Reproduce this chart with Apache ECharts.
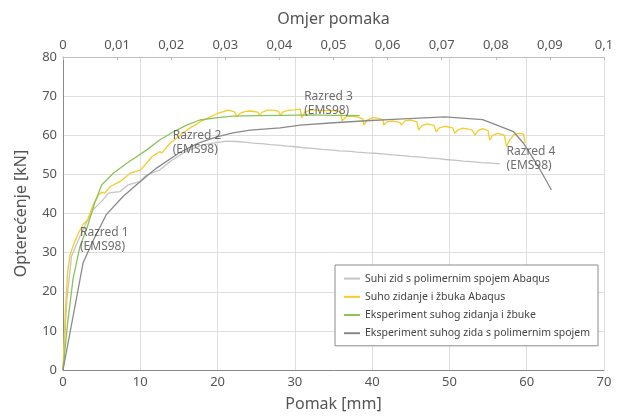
<!DOCTYPE html>
<html>
<head>
<meta charset="utf-8">
<script src="https://cdn.jsdelivr.net/npm/echarts@6/dist/echarts.min.js"></script>
<style>
  html, body { margin: 0; padding: 0; background: #fff; }
  #chart { width: 630px; height: 417px; }
</style>
</head>
<body>
<div id="chart"></div>
<script>
/* ===== podaci: pomak [mm] / opterecenje [kN] ===== */
const names = [
  "Suhi zid s polimernim spojem Abaqus",
  "Suho zidanje i žbuka Abaqus",
  "Eksperiment suhog zidanja i žbuke",
  "Eksperiment suhog zida s polimernim spojem",
];

// Suhi zid s polimernim spojem Abaqus
const abaqusPolX = [0, 0.5, 1.1, 2.2, 3.0, 3.9, 5.0, 5.9, 6.5, 7.4, 8.4, 10, 10.8, 12.5, 14, 16, 18, 20,
  21.2, 22.4, 22.5, 23.8, 24.6, 24.7, 26.0, 26.8, 26.9, 28.2, 29.0, 29.1, 30.4, 31.2, 31.3, 32.6, 33.5, 33.6,
  34.9, 35.8, 35.9, 37.2, 38.0, 38.1, 39.4, 40.3, 40.4, 41.7, 42.6, 42.7, 44.0, 44.9, 45.0, 46.3, 47.2, 47.3,
  48.6, 49.5, 49.6, 50.9, 51.8, 51.9, 53.2, 54.1, 54.2, 55.4, 56.5];
const abaqusPolY = [0, 18, 29.1, 34.2, 37.5, 41.0, 43.1, 45.2, 45.4, 45.6, 47.3, 48.2, 49.9, 51.1, 53.5, 56.0, 57.5, 58.2,
  58.5, 58.4, 57.9, 58.2, 58.0, 57.5, 57.8, 57.6, 57.1, 57.4, 57.2, 56.7, 57.0, 56.8, 56.3, 56.6, 56.4, 55.9,
  56.2, 56.0, 55.5, 55.9, 55.7, 55.2, 55.5, 55.4, 54.9, 55.2, 55.0, 54.5, 54.8, 54.6, 54.1, 54.4, 54.2, 53.7,
  54.0, 53.8, 53.3, 53.6, 53.4, 52.9, 53.2, 53.0, 52.6, 52.9, 52.7];

// Suho zidanje i zbuka Abaqus
const abaqusZbX = [0, 0.3, 0.6, 0.9, 1.3, 2.0, 2.6, 3.2, 3.9, 4.6, 5.0, 5.4, 6.1, 7.4, 7.6, 8.7, 10, 10.6, 11.5, 12.5, 12.8,
  13.8, 16, 17.7, 19.9, 21.4, 22.2, 22.5, 22.9, 23.6, 24.3, 25.2, 25.4, 25.8, 26.5, 27.2, 27.9, 28.1, 28.5, 29.2,
  30.0, 30.7, 30.9, 31.3, 32.0, 33.0, 34.0, 35.0, 35.9, 36.1, 36.7, 37.3, 38.0, 38.8, 38.9, 39.3, 40.1, 40.9, 41.4,
  41.5, 41.9, 42.7, 43.6, 43.8, 44.2, 44.9, 45.8, 46.0, 46.4, 47.1, 48.0, 48.3, 48.7, 49.4, 50.4, 50.7, 51.1, 51.8,
  52.9, 53.3, 53.7, 54.3, 55.0, 55.2, 55.6, 56.2, 57.1, 57.4, 57.8, 58.4, 59.1, 59.6, 59.8];
const abaqusZbY = [0, 15, 25, 29.3, 31.7, 35, 37.2, 38.5, 42.2, 44.8, 45.4, 45.2, 46.9, 48.2, 48.0, 50.3, 51.1, 52.4, 54.5, 55.8, 55.5,
  57.9, 61.3, 63.4, 65.5, 66.4, 66.0, 64.7, 65.6, 66.1, 66.2, 65.9, 65.1, 65.9, 66.4, 66.4, 66.1, 65.1, 66.0, 66.4,
  66.5, 66.7, 64.4, 65.9, 66.4, 66.4, 66.3, 66.3, 66.0, 63.7, 64.8, 64.9, 64.7, 64.2, 62.6, 63.8, 64.5, 64.3, 63.9,
  62.6, 63.4, 63.6, 63.3, 62.6, 63.6, 63.9, 63.4, 61.3, 62.4, 62.9, 62.5, 60.9, 61.9, 62.3, 61.9, 60.5, 61.4, 61.8,
  61.4, 60.1, 61.2, 61.7, 61.2, 58.8, 60.0, 60.5, 60.0, 57.1, 58.8, 60.2, 60.5, 60.2, 58.0];

// Eksperiment suhog zidanja i zbuke
const eksZbX = [0, 0.6, 1.3, 2.2, 3.1, 4.1, 5.0, 6.5, 8.2, 10.8, 12.5, 14.3, 16, 17.7, 20, 22, 25, 28.5, 32, 35, 38.4];
const eksZbY = [0, 12, 23.3, 31.6, 36.3, 42.7, 47.3, 50.3, 52.8, 56.2, 58.8, 60.9, 62.6, 63.9, 64.5, 64.9, 65.0, 65.1, 65.2, 65.1, 65.0];

// Eksperiment suhog zida s polimernim spojem
const eksPolX = [0, 2.6, 4.0, 5.6, 7.8, 10, 12.1, 15.1, 17.5, 19.9, 22, 24.2, 28.1, 30.7, 35, 39.3, 44, 49.4, 54.3, 58.3, 59.6, 61.5, 63.2];
const eksPolY = [0, 27.4, 33.5, 39.7, 44.4, 48.2, 51.6, 55.6, 58.0, 59.6, 60.6, 61.3, 61.9, 62.6, 63.2, 63.7, 64.2, 64.7, 64.0, 60.9, 57.9, 52, 46.0];

// oznake stupnja ostecenja
const razredX = [2.2, 14.2, 31.2, 57.4];
const razredY = [36.8, 61.7, 71.6, 57.6];
const razredText = ["Razred 1\n(EMS98)", "Razred 2\n(EMS98)", "Razred 3\n(EMS98)", "Razred 4\n(EMS98)"];

const colors = ["#c4c4c4", "#f5cc2a", "#8cc25a", "#8a8a8a"];

const zip = (xs, ys) => xs.map((x, i) => [x, ys[i]]);
const seriesData = [
  zip(abaqusPolX, abaqusPolY),
  zip(abaqusZbX, abaqusZbY),
  zip(eksZbX, eksZbY),
  zip(eksPolX, eksPolY),
];

const FONT = "Noto Sans";
const chart = echarts.init(document.getElementById("chart"));

const lineSeries = names.map((name, i) => ({
  name,
  type: "line",
  xAxisIndex: 0,
  data: seriesData[i],
  symbol: "none",
  smooth: false,
  lineStyle: { color: colors[i], width: 1.3 },
  itemStyle: { color: colors[i] },
  z: i === 3 ? 3 : 2,
}));

chart.setOption({
  animation: false,
  textStyle: { fontFamily: FONT },
  grid: { left: 63, right: 26, top: 57, bottom: 45 },

  legend: {
    data: names,
    orient: "vertical",
    left: 335,
    top: 265,
    padding: [8, 8, 7, 8],
    itemWidth: 16,
    itemHeight: 14,
    itemGap: 7,
    borderColor: "#8c8c8c",
    borderWidth: 1,
    backgroundColor: "#fff",
    itemStyle: { opacity: 0 }, // samo linija, bez kruzica
    textStyle: { fontSize: 10.5, color: "#444", fontFamily: FONT },
  },

  xAxis: [
    {
      type: "value",
      position: "bottom",
      min: 0,
      max: 70,
      interval: 10,
      name: "Pomak [mm]",
      nameLocation: "middle",
      nameGap: 26,
      nameTextStyle: { fontSize: 16, color: "#555" },
      axisLine: { show: true, lineStyle: { color: "#8a8a8a" } },
      axisTick: { show: false },
      axisLabel: { fontSize: 13, color: "#555", margin: 6 },
      splitLine: { show: true, lineStyle: { color: "#dedede" } },
    },
    {
      type: "value",
      position: "top",
      min: 0,
      max: 0.1,
      interval: 0.01,
      name: "Omjer pomaka",
      nameLocation: "middle",
      nameGap: 30,
      nameTextStyle: { fontSize: 16, color: "#555" },
      axisLine: { show: true, lineStyle: { color: "#bdbdbd" } },
      axisTick: { show: true, length: 3, inside: true, lineStyle: { color: "#bdbdbd" } },
      axisLabel: {
        fontSize: 13,
        color: "#555",
        margin: 5,
        formatter: (v) => String(+v.toFixed(2)).replace(".", ","),
      },
      splitLine: { show: false },
    },
  ],

  yAxis: {
    type: "value",
    min: 0,
    max: 80,
    interval: 10,
    name: "Opterećenje [kN]",
    nameLocation: "middle",
    nameGap: 34,
    nameTextStyle: { fontSize: 16, color: "#555" },
    axisLine: { show: true, lineStyle: { color: "#8a8a8a" } },
    axisTick: { show: false },
    axisLabel: { fontSize: 13, color: "#555", margin: 6 },
    splitLine: { show: true, lineStyle: { color: "#dedede" } },
  },

  series: [
    ...lineSeries,
    {
      name: "razred",
      type: "scatter",
      xAxisIndex: 0,
      symbolSize: 0,
      silent: true,
      z: 5,
      data: razredX.map((x, i) => ({ value: [x, razredY[i]], label: { formatter: razredText[i] } })),
      label: {
        show: true,
        position: [0, 0],
        align: "left",
        verticalAlign: "top",
        fontSize: 12,
        lineHeight: 14,
        color: "#4a4a4a",
        fontFamily: FONT,
      },
    },
  ],
});
</script>
</body>
</html>
